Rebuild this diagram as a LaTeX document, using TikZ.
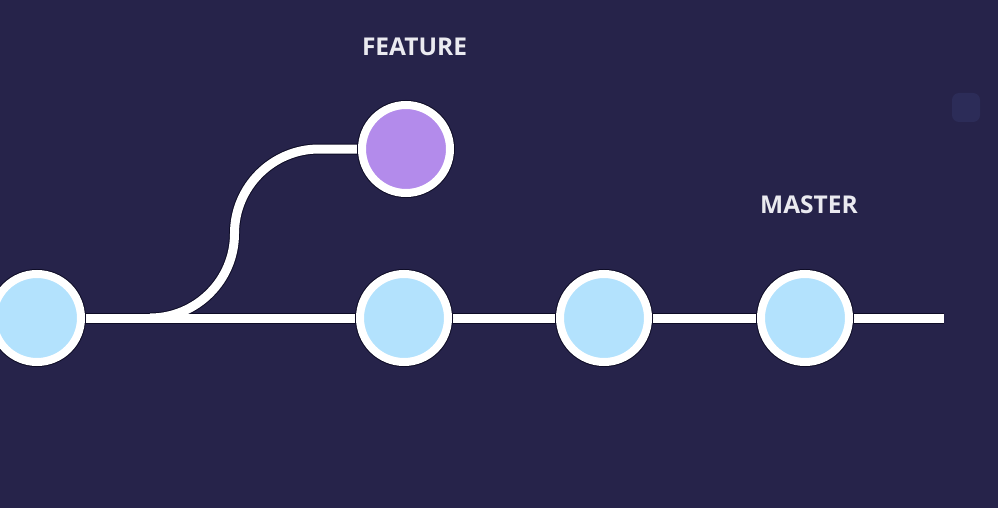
\documentclass[tikz,border=0pt]{standalone}
\usepackage{fontspec}
\setmainfont{Open Sans}
\definecolor{bg}{RGB}{38,35,74}
\definecolor{commitblue}{RGB}{179,226,253}
\definecolor{commitpurple}{RGB}{179,139,235}
\definecolor{labelgray}{RGB}{234,234,240}
\definecolor{edgedark}{RGB}{14,12,38}
\definecolor{ghost}{RGB}{44,44,88}
\begin{document}
\begin{tikzpicture}[x=1pt,y=-1pt,
  commit/.style={circle, draw=white, line width=8pt, minimum size=88pt, inner sep=0pt, fill=commitblue,
    preaction={draw=edgedark, line width=10pt}},
  featurecommit/.style={commit, fill=commitpurple},
  branchline/.style={white, line width=9pt},
  branchshadow/.style={edgedark, line width=11pt},
  label/.style={text=labelgray, font=\fontsize{24.5}{30}\selectfont\bfseries, inner sep=0pt}]
\fill[bg] (0,0) rectangle (998,508);
\useasboundingbox (0,0) rectangle (998,508);
\fill[ghost, rounded corners=7pt] (952,93) rectangle (980,122);
\coordinate (c0p) at (37,318);
\coordinate (branch) at (150,318);
\coordinate (endm) at (944,318);
\coordinate (fp) at (406,149);
% connector shadows
\draw[branchshadow] (c0p) -- (endm);
\draw[branchshadow] (branch) .. controls (196.6,318) and (234.5,280.1) .. (234.5,233.5)
   .. controls (234.5,186.9) and (272.4,149) .. (319,149) -- (fp);
% connectors
\draw[branchline] (c0p) -- (endm);
\draw[branchline] (branch) .. controls (196.6,318) and (234.5,280.1) .. (234.5,233.5)
   .. controls (234.5,186.9) and (272.4,149) .. (319,149) -- (fp);
% commits
\node[commit] (c0) at (c0p) {};
\node[commit] (c1) at (404,318) {};
\node[commit] (c2) at (604,318) {};
\node[commit] (c3) at (805,318) {};
\node[featurecommit] (f) at (fp) {};
% labels
\node[label] (lf) at (414.5,46.5) {FEATURE};
\node[label] (lm) at (809,205) {MASTER};
\end{tikzpicture}
\end{document}
